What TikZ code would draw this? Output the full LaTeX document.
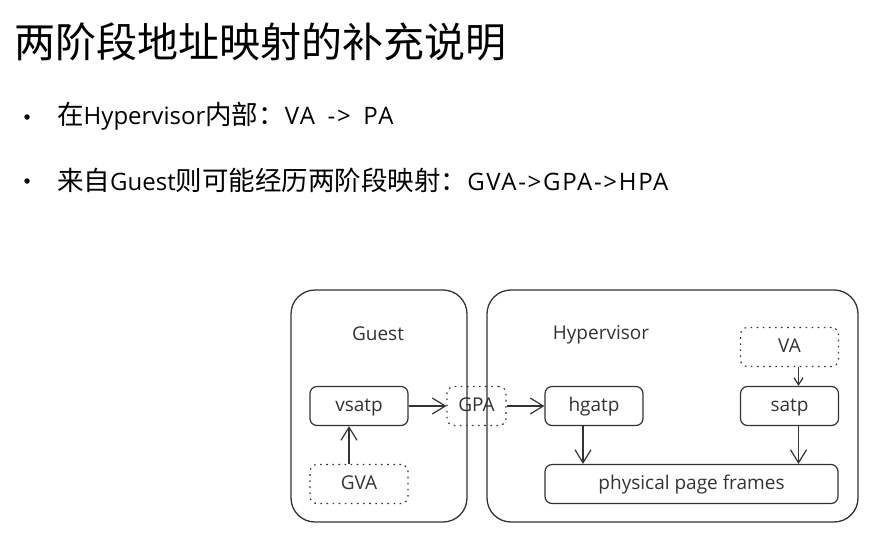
\documentclass[tikz,border=0pt]{standalone}
\usepackage{fontspec}
\setmainfont{Noto Sans CJK SC}
\newfontfamily\diagfont{Open Sans}
\newfontfamily\latwidefont[LetterSpace=7,WordSpace=1.6]{Open Sans}
\newcommand{\lat}[1]{{\diagfont\fontsize{24}{26}\selectfont #1}}
\newcommand{\latwide}[1]{{\latwidefont\fontsize{24}{26}\selectfont #1}}
\usetikzlibrary{arrows.meta}
\definecolor{linegray}{HTML}{333333}
\begin{document}
\begin{tikzpicture}[x=1pt,y=-1pt,
    panel/.style={draw=linegray,line width=1.3pt,rounded corners=24pt,minimum height=232pt,inner sep=0pt},
    regbox/.style={draw=linegray,line width=1.2pt,rounded corners=7pt,minimum width=98pt,minimum height=39pt,inner sep=0pt,text height=15pt,text depth=4pt,font=\diagfont\fontsize{19}{19}\selectfont,text=linegray},
    addrbox/.style={regbox,dash pattern=on 1.6pt off 4.5pt},
    label/.style={font=\diagfont\fontsize{19}{19}\selectfont,text=linegray},
    bullet/.style={anchor=west,inner sep=0pt,font=\fontsize{26.5}{27}\selectfont},
    dotmark/.style={circle,fill=black,inner sep=0pt,minimum size=5.5pt},
    arr/.style={draw=linegray,line width=1.2pt,-{Straight Barb[length=13pt,width=16pt]}},
    smallarr/.style={arr,-{Straight Barb[length=7pt,width=9pt]}}
  ]
  \useasboundingbox (0,0) rectangle (890,541);
  % title and bullets
  \node [anchor=west,font=\fontsize{41}{41}\selectfont] (title) at (11,42) {两阶段地址映射的补充说明};
  \node [dotmark] (dot1) at (27,117) {};
  \node [bullet] (item1) at (57,116) {在\lat{Hypervisor}内部：\latwide{VA -> PA}};
  \node [dotmark] (dot2) at (27,181) {};
  \node [bullet] (item2) at (57,180) {来自\lat{Guest}则可能经历两阶段映射：\latwide{GVA->GPA->HPA}};
  % panels
  \node [panel,minimum width=176pt] (guest) at (379,406) {};
  \node [panel,minimum width=371pt] (hyper) at (672.5,406) {};
  \node [label] (guestlbl) at (378,334) {Guest};
  \node [label] (hyperlbl) at (601,335) {Hypervisor};
  % registers and addresses
  \node [regbox] (vsatp) at (359,406) {vsatp};
  \node [addrbox] (gva) at (359,484) {GVA};
  \node [addrbox,minimum width=59pt] (gpa) at (476.5,406) {GPA};
  \node [regbox] (hgatp) at (594,406) {hgatp};
  \node [addrbox] (va) at (789.5,347) {VA};
  \node [regbox] (satp) at (789.5,406) {satp};
  \node [regbox,minimum width=293pt] (frames) at (691.5,484) {physical page frames};
  % connectors
  \draw [arr] ([xshift=-10pt]gva.north) -- ([xshift=-10pt]vsatp.south);
  \draw [arr] (vsatp) -- (gpa);
  \draw [arr] (gpa) -- (hgatp);
  \draw [arr] ([xshift=-11pt]hgatp.south) -- ([xshift=-11pt]frames.north -| hgatp.south);
  \draw [arr] ([xshift=9pt]satp.south) -- ([xshift=9pt]frames.north -| satp.south);
  \draw [smallarr] ([xshift=9pt]va.south) -- ([xshift=9pt]satp.north);
\end{tikzpicture}
\end{document}
